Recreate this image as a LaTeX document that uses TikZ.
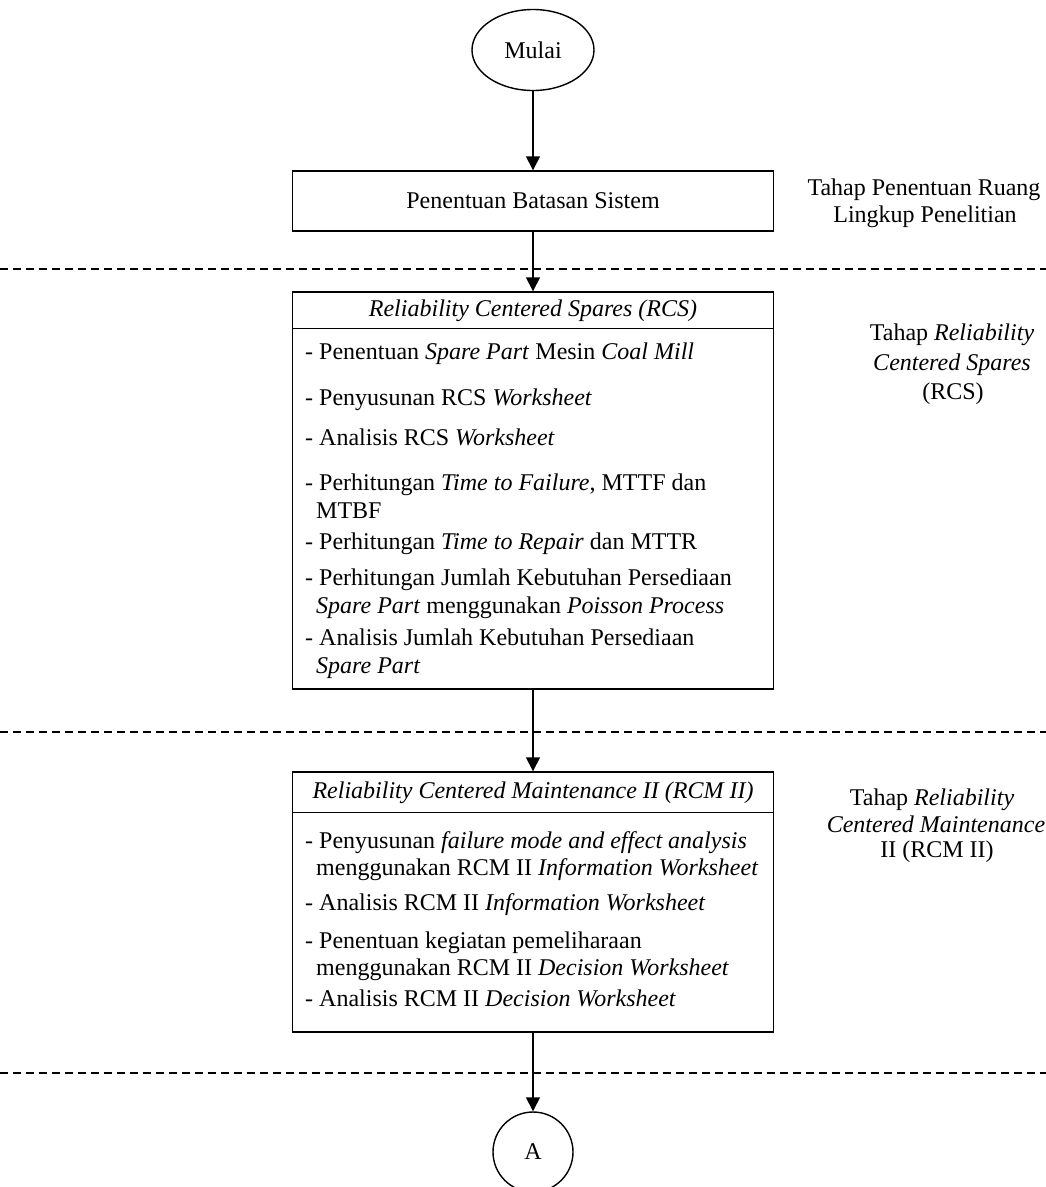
\documentclass[tikz,border=0pt]{standalone}
\usepackage{fontspec}
\setmainfont{Liberation Serif}
\usetikzlibrary{arrows.meta,shapes.geometric}
\begin{document}
\begin{tikzpicture}[x=1pt,y=-1pt,
  font=\fontsize{24}{29}\selectfont,
  box/.style={draw, line width=1.4pt, rectangle, inner sep=0pt},
  arr/.style={line width=1.4pt, -{Triangle[length=14pt,width=14pt]}},
  dashline/.style={line width=1.2pt, dash pattern=on 8pt off 5pt},
  item/.style={anchor=base west, inner sep=0pt},
  lab/.style={anchor=base, inner sep=0pt}]
\useasboundingbox (0,0) rectangle (1046,1187);
\clip (0,0) rectangle (1046,1187);

% start
\node[ellipse, draw, line width=1.4pt, minimum width=122pt, minimum height=81pt, inner sep=0pt] (start) at (533,50) {Mulai};

% box 1
\node[box, minimum width=481pt, minimum height=60pt] (b1) at (533,201) {Penentuan Batasan Sistem};
\node[lab] (l1a) at (924,195) {Tahap Penentuan Ruang};
\node[lab] (l1b) at (925,222) {Lingkup Penelitian};

\draw[dashline] (0,269) -- (1046,269);

% RCS box
\node[box, minimum width=481pt, minimum height=397pt] (rcs) at (533,490.5) {};
\draw[line width=1.4pt] ([yshift=-37pt]rcs.north west) -- ([yshift=-37pt]rcs.north east);
\node (rcsh) at (533,310.5) {\textit{Reliability Centered Spares (RCS)}};
\node[item] (r1) at (305,359) {- Penentuan \textit{Spare Part} Mesin \textit{Coal Mill}};
\node[item] (r2) at (305,405) {- Penyusunan RCS \textit{Worksheet}};
\node[item] (r3) at (305,445) {- Analisis RCS \textit{Worksheet}};
\node[item] (r4a) at (305,490) {- Perhitungan \textit{Time to Failure}, MTTF dan};
\node[item] (r4b) at (316,518) {MTBF};
\node[item] (r5) at (305,549) {- Perhitungan \textit{Time to Repair} dan MTTR};
\node[item] (r6a) at (305,585) {- Perhitungan Jumlah Kebutuhan Persediaan};
\node[item] (r6b) at (316,613) {\textit{Spare Part} menggunakan \textit{Poisson Process}};
\node[item] (r7a) at (305,645) {- Analisis Jumlah Kebutuhan Persediaan};
\node[item] (r7b) at (316,673) {\textit{Spare Part}};

\node[lab] (l2a) at (952,340) {Tahap \textit{Reliability}};
\node[lab] (l2b) at (952,370) {\textit{Centered Spares}};
\node[lab] (l2c) at (953,399) {(RCS)};

\draw[dashline] (0,732) -- (1046,732);

% RCM box
\node[box, minimum width=481pt, minimum height=260pt] (rcm) at (533,902) {};
\draw[line width=1.4pt] ([yshift=-41pt]rcm.north west) -- ([yshift=-41pt]rcm.north east);
\node (rcmh) at (533,792.5) {\textit{Reliability Centered Maintenance II (RCM II)}};
\node[item] (m1a) at (305,848) {- Penyusunan \textit{failure mode and effect analysis}};
\node[item] (m1b) at (316,875) {menggunakan RCM II \textit{Information Worksheet}};
\node[item] (m2) at (305,910) {- Analisis RCM II \textit{Information Worksheet}};
\node[item] (m3a) at (305,948) {- Penentuan kegiatan pemeliharaan};
\node[item] (m3b) at (316,975) {menggunakan RCM II \textit{Decision Worksheet}};
\node[item] (m4) at (305,1006) {- Analisis RCM II \textit{Decision Worksheet}};

\node[lab] (l3a) at (932,805) {Tahap \textit{Reliability}};
\node[lab] (l3b) at (936,832) {\textit{Centered Maintenance}};
\node[lab] (l3c) at (937,857) {II (RCM II)};

\draw[dashline] (0,1073) -- (1046,1073);

% connector A
\node[circle, draw, line width=1.4pt, minimum size=80pt, inner sep=0pt] (A) at (533,1152) {A};

% arrows
\draw[arr] (start) -- (b1);
\draw[arr] (b1) -- (rcs);
\draw[arr] (rcs) -- (rcm);
\draw[arr] (rcm) -- (A);
\end{tikzpicture}
\end{document}
